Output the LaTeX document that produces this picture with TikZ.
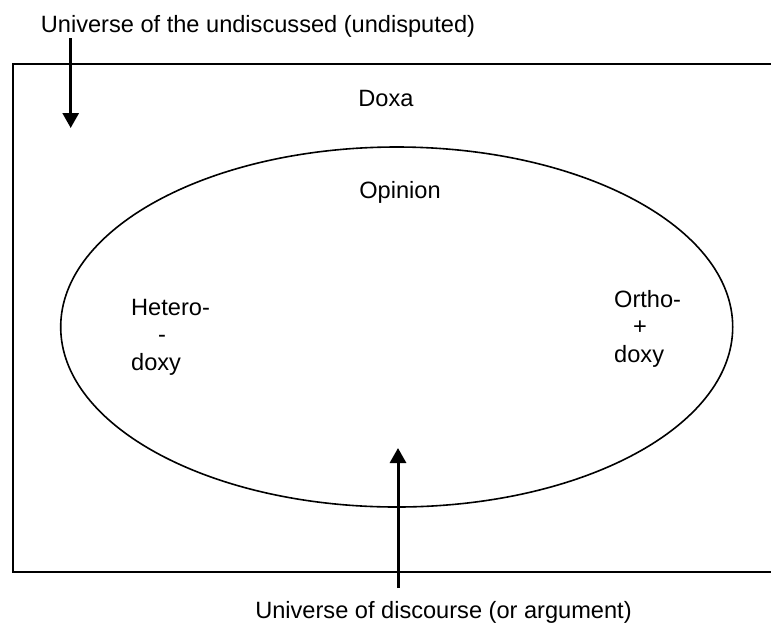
\documentclass[tikz,border=0pt]{standalone}
\usepackage{fontspec}
\setmainfont{Liberation Sans}
\usetikzlibrary{arrows.meta}
\tikzset{>={Triangle[width=16pt,length=15pt]}}
\tikzset{pointer/.style={line width=3pt,->},
  lbl/.style={anchor=base,inner sep=0pt},
  side/.style={anchor=north west,inner sep=0pt,align=left}}

\begin{document}
\begin{tikzpicture}[x=1pt,y=-1pt,font=\fontsize{23.6}{27.5}\selectfont]
  \useasboundingbox (0,0) rectangle (771,625);

  \draw[line width=2.5pt] (771,64)--(13,64)--(13,572)--(771,572);
  \draw[line width=1.6pt] (396.7,327) ellipse [x radius=336, y radius=180];

  \node[lbl] (undisc) at (258,32) {Universe of the undiscussed (undisputed)};
  \node[lbl] (doxa) at (386,106) {Doxa};
  \node[lbl] (opinion) at (400,198) {Opinion};
  \node[side] (hetero) at (131,299) {Hetero-\\\hspace{27pt}-\\doxy};
  \node[side] (ortho) at (614,290) {Ortho-\\\hspace{19pt}+\\doxy};
  \node[lbl] (discourse) at (443.5,618) {Universe of discourse (or argument)};

  \coordinate (tailA) at (70.7,38);
  \coordinate (tipA) at (70.7,128);
  \coordinate (tailB) at (398,588);
  \coordinate (tipB) at (398,448);
  \draw[pointer] (tailA) -- (tipA);
  \draw[pointer] (tailB) -- (tipB);

\end{tikzpicture}
\end{document}
